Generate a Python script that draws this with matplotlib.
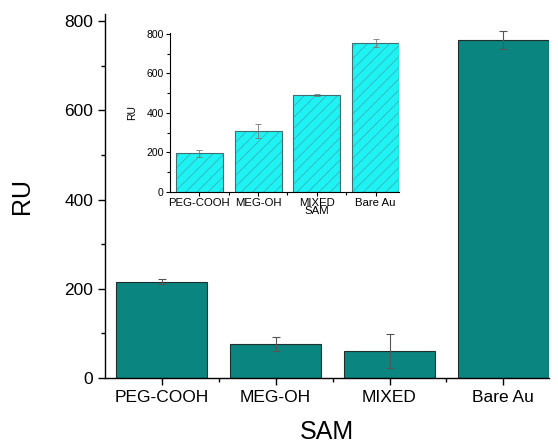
import matplotlib
matplotlib.use("Agg")
import matplotlib.pyplot as plt
from matplotlib.ticker import MultipleLocator, FixedLocator

plt.rcParams['font.family'] = ['Liberation Sans', 'DejaVu Sans']
plt.rcParams['hatch.linewidth'] = 0.6

# Main chart data
categories = ["PEG-COOH", "MEG-OH", "MIXED", "Bare Au"]
values = [216, 76, 61, 757]
errors = [6, 16, 38, 20]

# Inset data
inset_categories = ["PEG-COOH", "MEG-OH", "MIXED\nSAM", "Bare Au"]
inset_values = [197, 309, 491, 754]
inset_errors = [18, 37, 5, 22]

fig = plt.figure(figsize=(5.58, 4.47), dpi=100)
ax = fig.add_axes([0.188, 0.1544, 0.7957, 0.8143])
x = list(range(1, len(categories) + 1))
ax.bar(x, values, width=0.8, color="#0a8580", edgecolor="#1f2f2e", linewidth=0.8,
       yerr=errors, error_kw=dict(ecolor="#555555", elinewidth=0.8, capsize=3, capthick=0.8))
ax.set_xlim(0.5, 4.4)
ax.set_ylim(0, 816)
ax.set_xticks(x)
ax.set_xticklabels(categories, fontsize=12.5)
ax.xaxis.set_minor_locator(FixedLocator([1.5, 2.5, 3.5]))
ax.yaxis.set_major_locator(MultipleLocator(200))
ax.yaxis.set_minor_locator(MultipleLocator(100))
ax.tick_params(axis="both", which="major", direction="out", length=5, width=1, labelsize=12.5)
ax.tick_params(axis="both", which="minor", direction="out", length=3, width=1)
for s in ["top", "right"]:
    ax.spines[s].set_visible(False)
ax.spines["left"].set_linewidth(1)
ax.spines["bottom"].set_linewidth(1)
ax.set_ylabel("RU", fontsize=18, labelpad=22)
ax.set_xlabel("SAM", fontsize=18, labelpad=11)

# Inset
ia = fig.add_axes([0.3047, 0.5705, 0.4104, 0.3557])
xi = list(range(1, len(inset_categories) + 1))
# hatched fill (hatch colour from edgecolor)
ia.bar(xi, inset_values, width=0.8, color="#1ef2f2", edgecolor="#35b5bd", hatch="///",
       linewidth=0)
# dark outline + error bars on top
ia.bar(xi, inset_values, width=0.8, fill=False, edgecolor="#3f6f70",
       linewidth=0.8, yerr=inset_errors,
       error_kw=dict(ecolor="#777777", elinewidth=0.6, capsize=2, capthick=0.6))
ia.set_xlim(0.5, 4.4)
ia.set_ylim(0, 805)
ia.set_xticks(xi)
ia.set_xticklabels(inset_categories, fontsize=8.2, linespacing=0.75)
ia.xaxis.set_minor_locator(FixedLocator([1.5, 2.5, 3.5]))
ia.yaxis.set_major_locator(MultipleLocator(200))
ia.yaxis.set_minor_locator(MultipleLocator(100))
ia.tick_params(axis="both", which="major", direction="out", length=3, width=0.8, pad=1.5)
ia.tick_params(axis="x", which="major", labelsize=8.2)
ia.tick_params(axis="y", which="major", labelsize=7.5)
ia.tick_params(axis="both", which="minor", direction="out", length=2, width=0.8)
for s in ["top", "right"]:
    ia.spines[s].set_visible(False)
ia.set_ylabel("RU", fontsize=7.5, labelpad=7)
ia.patch.set_alpha(0)

fig.savefig("out.png", dpi=100)
